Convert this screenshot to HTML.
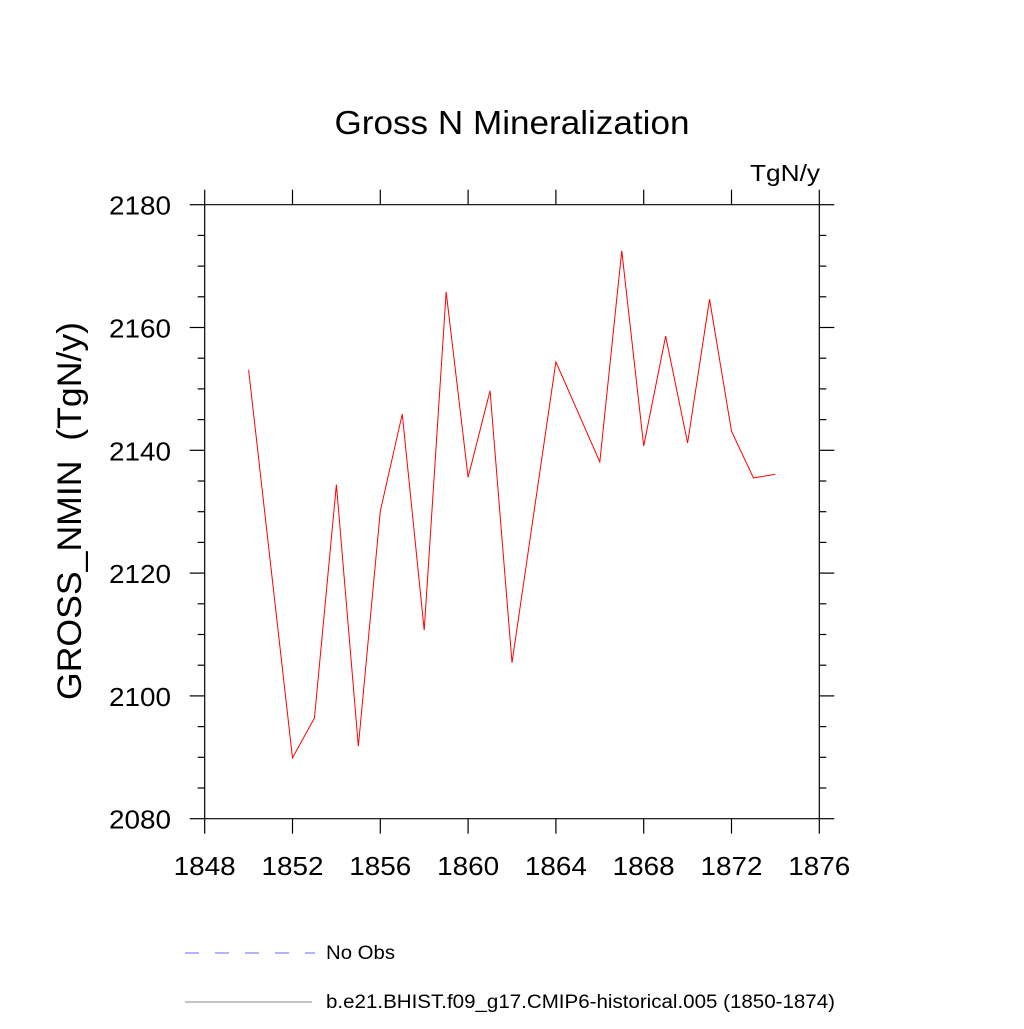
<!DOCTYPE html>
<html><head><meta charset="utf-8"><style>
body{margin:0;background:#fff}
svg text{font-family:"Liberation Sans",sans-serif;fill:#000}
</style></head><body>
<svg id="chart" width="1024" height="1024" xmlns="http://www.w3.org/2000/svg">
<text x="512" y="134" font-size="33" text-anchor="middle" textLength="355" lengthAdjust="spacingAndGlyphs">Gross N Mineralization</text>
<text x="820" y="181" font-size="23" text-anchor="end" textLength="70" lengthAdjust="spacingAndGlyphs">TgN/y</text>
<text transform="translate(81,511) rotate(-90)" font-size="34" text-anchor="middle" textLength="378" lengthAdjust="spacingAndGlyphs" xml:space="preserve">GROSS_NMIN  (TgN/y)</text>
<g id="axes"></g>
<g id="series"></g>
<g>
<line x1="185" y1="953" x2="315" y2="953" stroke="#6666ff" stroke-width="1" stroke-dasharray="14,16"/>
<text x="326" y="959" font-size="19" textLength="69" lengthAdjust="spacingAndGlyphs">No Obs</text>
<line x1="185" y1="1002" x2="312" y2="1002" stroke="#888" stroke-width="1"/>
<text x="326" y="1008" font-size="19" textLength="509" lengthAdjust="spacingAndGlyphs">b.e21.BHIST.f09_g17.CMIP6-historical.005 (1850-1874)</text>
</g>
</svg>
<script>
const years=[1850,1852,1853,1854,1855,1856,1857,1858,1859,1860,1861,1862,1864,1866,1867,1868,1869,1870,1871,1872,1873,1874];
const values=[2153.1,2089.9,2096.4,2134.4,2091.8,2130.1,2145.9,2110.7,2165.8,2135.6,2149.7,2105.4,2154.4,2138.1,2172.5,2140.7,2158.6,2141.2,2164.6,2143.1,2135.5,2136.1];
const xTicks=[1848,1852,1856,1860,1864,1868,1872,1876];
const yTicks=[2080,2100,2120,2140,2160,2180];
const NS="http://www.w3.org/2000/svg";
const L=204.7,R=819.3,T=204.7,B=818.7;
const xs=v=>L+(v-1848)/28*(R-L);
const ys=v=>B-(v-2080)/100*(B-T);
const ax=document.getElementById('axes');
function ln(x1,y1,x2,y2,name){const e=document.createElementNS(NS,'line');e.setAttribute('x1',x1);e.setAttribute('y1',y1);e.setAttribute('x2',x2);e.setAttribute('y2',y2);e.setAttribute('stroke','#000');e.setAttribute('stroke-width','1.2');


ax.appendChild(e);}
function tx(x,y,s,anchor,name){const e=document.createElementNS(NS,'text');e.setAttribute('x',x);e.setAttribute('y',y);e.setAttribute('font-size','26');e.setAttribute('text-anchor',anchor);e.setAttribute('textLength','62');e.setAttribute('lengthAdjust','spacingAndGlyphs');e.textContent=s;


ax.appendChild(e);}
ln(L,T,R,T,'top-axis');ln(L,B,R,B,'bottom-axis');ln(L,T,L,B,'left-axis');ln(R,T,R,B,'right-axis');
xTicks.forEach(v=>{const x=xs(v);ln(x,B,x,B+15,'x-tick');ln(x,T,x,T-15,'x-tick-top');tx(x,875,String(v),'middle','x-tick-label');});
for(let v=2080;v<=2180;v+=5){const y=ys(v);const major=v%20===0;const len=major?15:7;ln(L-len,y,L,y,'y-tick');ln(R,y,R+len,y,'y-tick-right');}
yTicks.forEach(v=>{tx(171,ys(v)+10,String(v),'end','y-tick-label');});
const p=document.createElementNS(NS,'polyline');
p.setAttribute('points',years.map((y,i)=>xs(y)+','+ys(values[i])).join(' '));
p.setAttribute('fill','none');p.setAttribute('stroke','#ff0000');p.setAttribute('stroke-width','1');


document.getElementById('series').appendChild(p);
</script>
</body></html>
